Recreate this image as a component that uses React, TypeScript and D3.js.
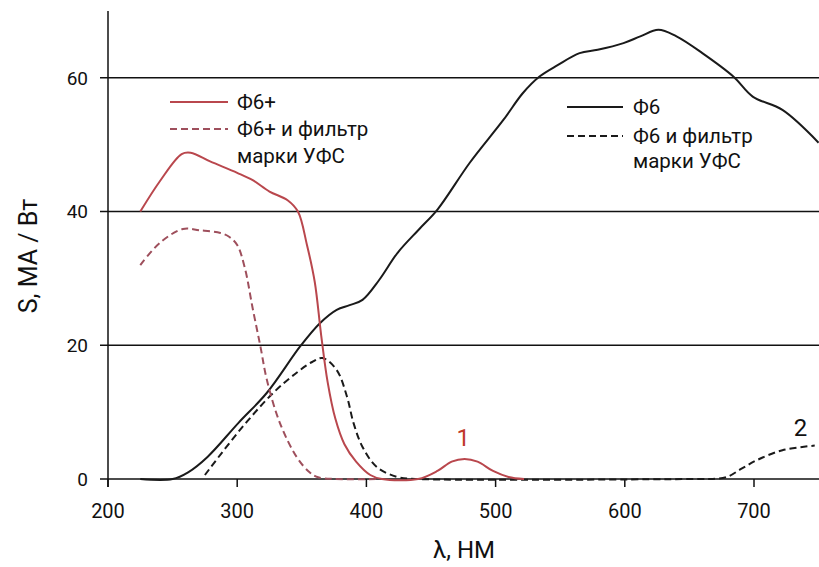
import React from 'react';
import * as d3 from 'd3';

// wavelength (nm), sensitivity (mA/W)
const f6Plus: [number, number][] = [
  [225, 40], [240, 44.5], [257, 48.6], [264, 48.8], [279, 47.5], [300, 45.8], [312, 44.7],
  [325, 43.0], [339, 41.7], [347, 40], [354, 35], [360, 29.5], [365, 21.5], [370, 14.5],
  [376, 9], [383, 5.2], [392, 2.6], [403, 0.6], [412, 0], [440, 0], [455, 1.2], [466, 2.6],
  [476, 3.0], [486, 2.6], [498, 1.2], [510, 0.3], [522, 0]
];

const f6PlusFilter: [number, number][] = [
  [225, 32], [240, 35.3], [258, 37.4], [271, 37.2], [287, 36.8], [294, 36.2], [300, 35],
  [306, 31.5], [312, 25.5], [318, 19.8], [323, 14.8], [333, 8.4], [346, 3.3], [356, 1],
  [362, 0.3], [375, 0], [410, 0]
];

const f6: [number, number][] = [
  [225, 0], [250, 0], [262, 1], [277, 3.3], [301, 8.4], [323, 12.9], [349, 19.9],
  [364, 23.3], [377, 25.3], [387, 26], [397, 26.8], [410, 29.8], [424, 33.8], [441, 37.4],
  [455, 40.3], [480, 47.3], [506, 53.7], [521, 57.7], [534, 60.2], [548, 61.9], [565, 63.7],
  [579, 64.2], [599, 65.2], [612, 66.2], [626, 67.2], [640, 66.2], [660, 63.7], [684, 60.2],
  [699, 57.2], [722, 55.2], [750, 50.3]
];

const f6Filter: [number, number][] = [
  [275, 0.6], [302, 7.3], [328, 12.9], [346, 15.9], [358, 17.5], [366, 18.1], [377, 16.3],
  [385, 12.3], [390, 8.4], [397, 4.8], [408, 1.8], [424, 0.3], [440, 0], [660, 0],
  [668, 0], [679, 0.3], [690, 1.5], [702, 2.8], [722, 4.3], [747, 5.0]
];

const xTicks = [200, 300, 400, 500, 600, 700];
const yTicks = [0, 20, 40, 60];

const legendLeft = ['Ф6+', 'Ф6+ и фильтр', 'марки УФС'];
const legendRight = ['Ф6', 'Ф6 и фильтр', 'марки УФС'];

const RED = '#b9474d';
const RED_DASH = '#9e4f5c';
const FONT = 'Roboto, sans-serif';

export default function App() {
  const width = 819, height = 567;
  const x = d3.scaleLinear().domain([200, 750]).range([108, 818.6]);
  const y = d3.scaleLinear().domain([0, 70]).range([479, 11]);

  const line = d3.line<[number, number]>()
    .x(d => x(d[0]))
    .y(d => y(d[1]))
    .curve(d3.curveCatmullRom.alpha(0.5));

  const dash = '7,4';

  return (
    <div style={{ position: 'absolute', left: 0, top: 0 }}>
      <svg width={width} height={height} style={{ display: 'block', background: '#fff' }}>
        {/* grid + y ticks */}
        {yTicks.map(t => (
          <g key={t}>
            <line x1={100} x2={width} y1={y(t)} y2={y(t)} stroke="#111" strokeWidth={1.5} />
            <text x={88} y={y(t)} dy="0.36em" textAnchor="end" fontFamily={FONT}
              fontSize={19} fill="#111">{t}</text>
          </g>
        ))}
        {/* y axis line */}
        <line x1={x(200)} x2={x(200)} y1={y(70)} y2={487} stroke="#111" strokeWidth={1.5} />
        {/* x ticks */}
        {xTicks.map(t => (
          <g key={t}>
            <line x1={x(t)} x2={x(t)} y1={y(0)} y2={487} stroke="#111" strokeWidth={1.5} />
            <text x={x(t)} y={518} textAnchor="middle" fontFamily={FONT}
              fontSize={20} fill="#111">{t}</text>
          </g>
        ))}

        {/* curves */}
        <path d={line(f6) || ''} fill="none" stroke="#1a1a1a" strokeWidth={2} />
        <path d={line(f6Filter) || ''} fill="none" stroke="#1a1a1a" strokeWidth={2}
          strokeDasharray={dash} />
        <path d={line(f6PlusFilter) || ''} fill="none" stroke={RED_DASH} strokeWidth={2}
          strokeDasharray={dash} />
        <path d={line(f6Plus) || ''} fill="none" stroke={RED} strokeWidth={2} />

        {/* curve labels */}
        <text x={x(475)} y={446} textAnchor="middle" fontFamily={FONT} fontSize={24}
          fill="#c0392b">1</text>
        <text x={x(736)} y={436} textAnchor="middle" fontFamily={FONT} fontSize={24}
          fill="#111">2</text>

        {/* legend left */}
        <line x1={170} x2={228} y1={102} y2={102} stroke={RED} strokeWidth={2} />
        <line x1={170} x2={228} y1={129} y2={129} stroke={RED_DASH} strokeWidth={2}
          strokeDasharray={dash} />
        <g fontFamily={FONT} fontSize={20.5} fill="#111">
          <text x={237} y={102} dy="0.35em">{legendLeft[0]}</text>
          <text x={237} y={129} dy="0.35em">{legendLeft[1]}</text>
          <text x={237} y={156} dy="0.35em">{legendLeft[2]}</text>
        </g>

        {/* legend right */}
        <line x1={567} x2={623} y1={107} y2={107} stroke="#1a1a1a" strokeWidth={2} />
        <line x1={567} x2={623} y1={136} y2={136} stroke="#1a1a1a" strokeWidth={2}
          strokeDasharray={dash} />
        <g fontFamily={FONT} fontSize={20.5} fill="#111">
          <text x={633} y={107} dy="0.35em">{legendRight[0]}</text>
          <text x={633} y={136} dy="0.35em">{legendRight[1]}</text>
          <text x={633} y={161} dy="0.35em">{legendRight[2]}</text>
        </g>

        {/* axis titles */}
        <text x={464} y={558} textAnchor="middle" fontFamily={FONT} fontSize={24}
          fill="#111">λ, НМ</text>
        <text transform="translate(37,256) rotate(-90)" textAnchor="middle"
          fontFamily={FONT} fontSize={25} fill="#111">S, МА / Вт</text>
      </svg>
    </div>
  );
}
